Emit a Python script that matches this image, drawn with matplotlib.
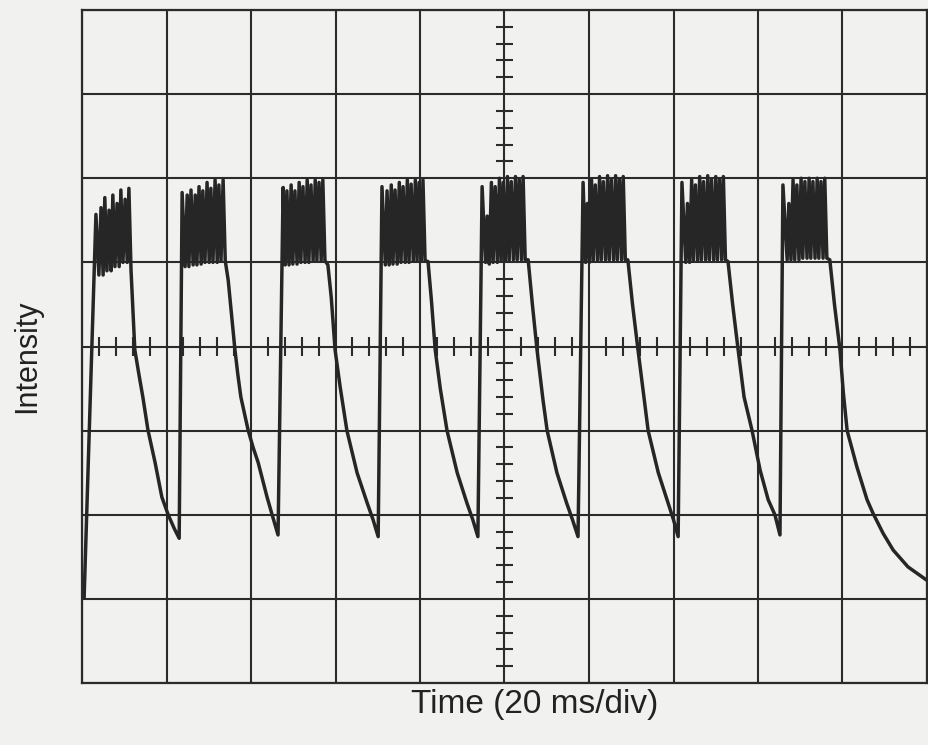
import numpy as np
import matplotlib
matplotlib.use("Agg")
import matplotlib.pyplot as plt

# time in ms (20 ms/div), intensity in screen divisions (0..8)
c1_t = [0.5, 3.3, 4.0, 4.5, 5.0, 5.4, 5.9, 6.4, 6.9, 7.3, 7.8, 8.3, 8.8, 9.2, 9.7,
        10.2, 10.7, 11.1, 11.6, 12.5, 13.5, 14.4, 15.6, 17.3, 18.9, 20.4, 21.8, 23.0]
c1_v = [1.01, 5.57, 4.85, 5.65, 4.85, 5.77, 4.90, 5.62, 4.90, 5.80, 4.95, 5.70, 4.95, 5.86, 5.00,
        5.75, 5.00, 5.88, 4.91, 3.96, 3.66, 3.40, 3.01, 2.62, 2.21, 2.00, 1.84, 1.72]

c2_t = [23.7, 24.4, 24.9, 25.3, 25.8, 26.3, 26.8, 27.2, 27.7, 28.2, 28.6, 29.1, 29.6, 30.1, 30.5,
        31.0, 31.5, 32.0, 32.4, 32.9, 33.4, 33.9, 34.6, 36.2, 36.9, 37.6, 39.3, 40.5, 41.7, 43.8, 45.0, 46.4]
c2_v = [5.83, 4.95, 5.80, 4.95, 5.86, 4.97, 5.80, 4.97, 5.90, 4.98, 5.85, 5.00, 5.95, 5.00, 5.88,
        5.00, 5.98, 5.00, 5.92, 5.02, 5.98, 5.02, 4.79, 3.96, 3.66, 3.40, 3.01, 2.80, 2.62, 2.21, 2.00, 1.76]

c3_t = [47.6, 48.1, 48.5, 49.0, 49.5, 49.9, 50.4, 50.9, 51.4, 51.8, 52.3, 52.8, 53.3, 53.7, 54.2,
        54.7, 55.2, 55.6, 56.1, 56.6, 57.0, 57.5, 58.2, 59.0, 59.9, 61.1, 62.7, 65.1, 67.5, 68.9, 70.1]
c3_v = [5.89, 4.97, 5.85, 4.97, 5.92, 4.98, 5.85, 4.98, 5.95, 5.00, 5.90, 5.00, 5.98, 5.00, 5.92,
        5.02, 5.98, 5.02, 5.95, 5.02, 5.98, 5.02, 4.97, 4.58, 3.96, 3.52, 3.00, 2.50, 2.14, 1.94, 1.74]

c4_t = [71.0, 71.8, 72.2, 72.7, 73.2, 73.6, 74.1, 74.6, 75.1, 75.5, 76.0, 76.5, 77.0, 77.4, 77.9,
        78.4, 78.9, 79.3, 79.8, 80.3, 80.7, 81.2, 81.9, 82.7, 83.6, 84.8, 86.4, 88.8, 91.1, 92.5, 93.7]
c4_v = [5.90, 4.97, 5.85, 4.97, 5.92, 4.98, 5.86, 4.98, 5.95, 5.00, 5.90, 5.00, 5.98, 5.00, 5.93,
        5.02, 5.98, 5.02, 5.95, 5.02, 5.98, 5.02, 5.01, 4.55, 3.96, 3.50, 3.00, 2.50, 2.14, 1.94, 1.74]

c5_t = [94.7, 95.5, 95.9, 96.4, 96.9, 97.3, 97.8, 98.3, 98.8, 99.2, 99.7, 100.2, 100.7, 101.1, 101.6,
        102.1, 102.6, 103.0, 103.5, 104.0, 104.4, 104.9, 105.6, 106.6, 107.7, 109.1, 110.1, 112.4, 114.7,
        116.1, 117.4]
c5_v = [5.90, 5.00, 5.55, 4.98, 5.95, 5.00, 5.90, 5.00, 6.00, 5.02, 5.95, 5.02, 6.02, 5.02, 5.96,
        5.03, 6.02, 5.03, 5.98, 5.03, 6.02, 5.03, 5.03, 4.50, 3.96, 3.37, 3.00, 2.50, 2.14,
        1.94, 1.74]

c6_t = [118.6, 119.2, 119.6, 120.1, 120.6, 121.0, 121.5, 122.0, 122.5, 122.9, 123.4, 123.9, 124.4, 124.8, 125.3,
        125.8, 126.3, 126.7, 127.2, 127.7, 128.1, 128.6, 129.2, 130.3, 131.6, 133.0, 134.0, 136.4, 138.7,
        140.0, 141.1]
c6_v = [5.95, 5.00, 5.70, 5.00, 5.98, 5.02, 5.92, 5.02, 6.02, 5.03, 5.96, 5.03, 6.03, 5.03, 5.98,
        5.03, 6.03, 5.03, 5.98, 5.03, 6.02, 5.03, 5.03, 4.50, 3.96, 3.40, 3.00, 2.50, 2.14,
        1.94, 1.74]

c7_t = [142.0, 142.9, 143.3, 143.8, 144.3, 144.7, 145.2, 145.7, 146.2, 146.6, 147.1, 147.6, 148.1, 148.5, 149.0,
        149.5, 150.0, 150.4, 150.9, 151.4, 151.8, 152.3, 152.9, 154.0, 155.3, 156.7, 158.6, 160.5, 162.4,
        164.0, 165.2]
c7_v = [5.95, 5.00, 5.70, 5.00, 5.98, 5.02, 5.92, 5.02, 6.02, 5.03, 5.96, 5.03, 6.03, 5.03, 5.98,
        5.03, 6.02, 5.03, 5.98, 5.03, 6.02, 5.03, 5.01, 4.50, 3.96, 3.40, 3.00, 2.53, 2.18,
        2.00, 1.76]

c8_t = [165.9, 166.9, 167.3, 167.8, 168.3, 168.7, 169.2, 169.7, 170.2, 170.6, 171.1, 171.6, 172.1, 172.5, 173.0,
        173.5, 174.0, 174.4, 174.9, 175.4, 175.8, 176.3, 177.0, 178.1, 179.4, 180.2, 181.1, 183.4, 185.8,
        187.2, 189.6, 192.0, 195.5, 200.0]
c8_v = [5.92, 5.03, 5.70, 5.03, 5.98, 5.03, 5.92, 5.03, 6.00, 5.05, 5.96, 5.05, 6.00, 5.05, 5.96,
        5.05, 6.00, 5.05, 5.96, 5.05, 6.00, 5.05, 5.03, 4.50, 3.96, 3.45, 3.00, 2.57, 2.18,
        2.02, 1.78, 1.58, 1.38, 1.22]

t = np.concatenate([c1_t, c2_t, c3_t, c4_t, c5_t, c6_t, c7_t, c8_t])
v = np.concatenate([c1_v, c2_v, c3_v, c4_v, c5_v, c6_v, c7_v, c8_v])

paper = "#f1f1ef"
ink = "#2b2b2b"

fig = plt.figure(figsize=(9.29, 7.45), dpi=100, facecolor=paper)
ax = fig.add_axes([82 / 929, 62 / 745, 845 / 929, 673 / 745], facecolor=paper)

ax.set_xlim(0, 200)
ax.set_ylim(0, 8)
ax.set_xticks(np.arange(0, 201, 20))
ax.set_yticks(np.arange(0, 9, 1))
ax.grid(True, color=ink, linewidth=1.5)
ax.tick_params(length=0, labelbottom=False, labelleft=False)
for s in ax.spines.values():
    s.set_color(ink)
    s.set_linewidth(1.6)

# graticule minor ticks on the centre axes
xm = [x for x in np.arange(0, 200.1, 4) if x % 20 != 0]
ym = [y for y in np.arange(0, 8.01, 0.2) if abs(y - round(y)) > 1e-6]
ax.vlines(xm, 4 - 0.11, 4 + 0.11, color=ink, linewidth=1.5)
ax.hlines(ym, 100 - 1.9, 100 + 1.9, color=ink, linewidth=1.5)

ax.plot(t, v, color="#262626", linewidth=2.5, solid_joinstyle="round")

fig.text(535 / 929, 1 - 704 / 745, "Time (20 ms/div)", fontsize=24,
         family="Liberation Sans", color="#222222", ha="center", va="center")
fig.text(27 / 929, 1 - 356 / 745, "Intensity", fontsize=22, rotation=90,
         family="Liberation Sans", color="#222222", ha="center", va="center")

fig.savefig("out.png", dpi=100, facecolor=paper)
